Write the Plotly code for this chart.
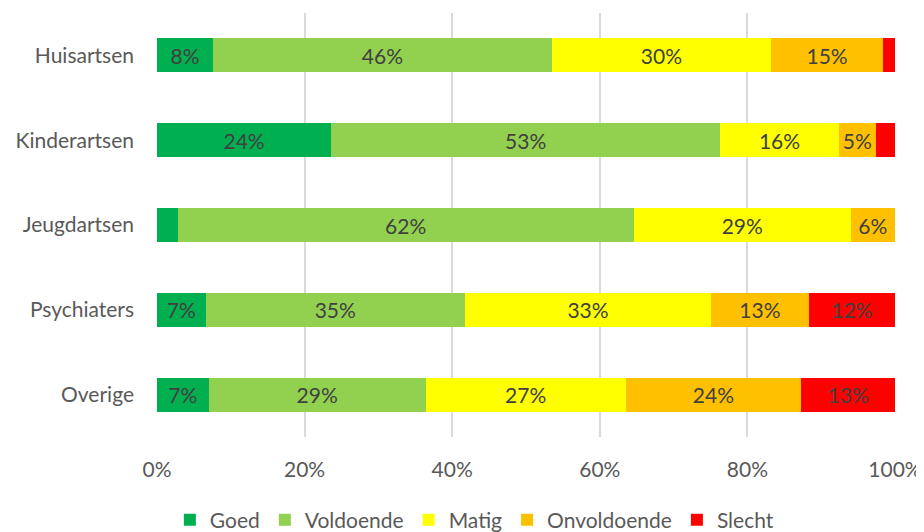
import plotly.graph_objects as go

categories = ["Huisartsen", "Kinderartsen", "Jeugdartsen", "Psychiaters", "Overige"]

goed = [7.6, 23.6, 2.8, 6.6, 7.0]
voldoende = [45.9, 52.7, 61.8, 35.1, 29.4]
matig = [29.7, 16.1, 29.4, 33.4, 27.1]
onvoldoende = [15.2, 5.0, 6.0, 13.2, 23.8]
slecht = [1.6, 2.6, 0.0, 11.7, 12.7]

x_ticks = [0, 20, 40, 60, 80, 100]
x_tick_labels = ["0%", "20%", "40%", "60%", "80%", "100%"]

series = [
    ("Goed", goed, "#00B050"),
    ("Voldoende", voldoende, "#92D050"),
    ("Matig", matig, "#FFFF00"),
    ("Onvoldoende", onvoldoende, "#FFC000"),
    ("Slecht", slecht, "#FF0000"),
]

font_family = "Lato, Open Sans, sans-serif"
text_color = "#404040"
label_color = "#595959"

fig = go.Figure()
for name, values, color in series:
    # small segments get no label, as in the original
    labels = [f"{v:.0f}%" if v >= 4 else "" for v in values]
    fig.add_trace(
        go.Bar(
            name=name,
            y=categories,
            x=values,
            orientation="h",
            marker=dict(color=color, line=dict(width=0)),
            text=labels,
            texttemplate="%{text}",
            textposition="inside",
            insidetextanchor="middle",
            textangle=0,
            constraintext="none",
            textfont=dict(family=font_family, size=21, color=text_color),
            hoverinfo="x+y+name",
        )
    )

# the page body has an 8px margin, so the figure is 8px smaller than the window
fig.update_layout(
    template="none",
    barmode="stack",
    bargap=0.6,
    width=916,
    height=524,
    margin=dict(l=149, r=29, t=5, b=95, autoexpand=False),
    paper_bgcolor="white",
    plot_bgcolor="white",
    font=dict(family=font_family, size=21, color=label_color),
    legend=dict(
        orientation="h",
        x=0.43,
        xanchor="center",
        y=-0.196,
        yanchor="middle",
        font=dict(family=font_family, size=21, color=label_color),
        traceorder="normal",
        itemwidth=30,
    ),
    xaxis=dict(
        range=[0, 100],
        tickmode="array",
        tickvals=x_ticks,
        ticktext=x_tick_labels,
        showgrid=True,
        gridcolor="#d9d9d9",
        gridwidth=1.5,
        zeroline=False,
        showline=False,
        ticks="",
        ticklabelstandoff=18,
        automargin=False,
    ),
    yaxis=dict(
        autorange="reversed",
        showgrid=False,
        zeroline=False,
        showline=False,
        ticks="",
        ticklabelstandoff=22,
        automargin=False,
    ),
)

fig.write_html("out.html")
